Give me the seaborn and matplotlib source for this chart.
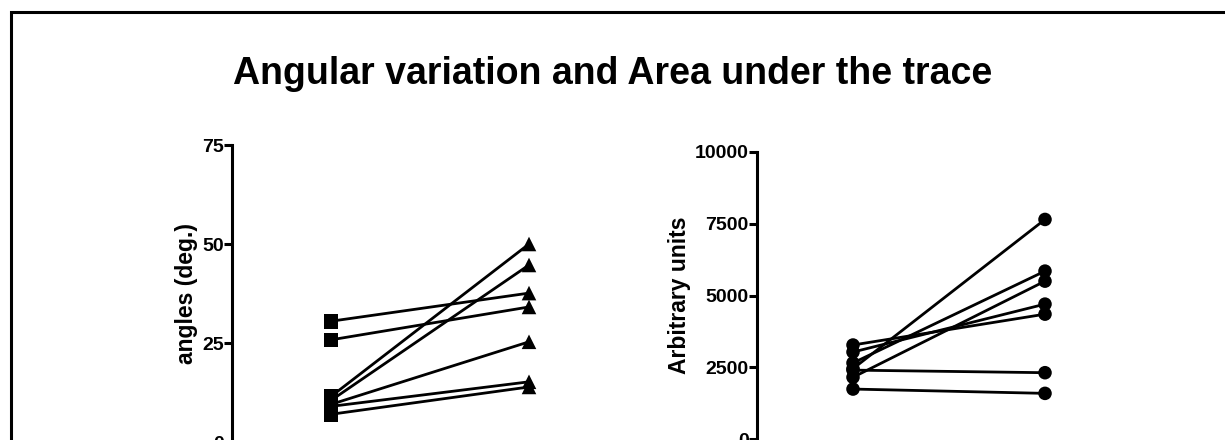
import matplotlib
matplotlib.use("Agg")
import matplotlib.pyplot as plt
from matplotlib.patches import Rectangle
import numpy as np
import pandas as pd
import seaborn as sns

sns.set_theme(style="white")
plt.rcParams["font.family"] = ["Liberation Sans", "DejaVu Sans"]
plt.rcParams["text.color"] = "black"
plt.rcParams["axes.labelcolor"] = "black"
plt.rcParams["ytick.color"] = "black"

# Paired measurements, one entry per subject
angle_before = [30.5, 25.8, 11.5, 10.5, 9.5, 9.0, 7.0]
angle_after = [37.6, 34.1, 50.0, 44.7, 25.3, 15.2, 13.9]

area_before = [3275, 3030, 2650, 2450, 2150, 2400, 1740]
area_after = [4350, 4700, 5850, 7650, 5500, 2310, 1590]

angle_ticks = [0, 25, 50, 75]
area_ticks = [0, 2500, 5000, 7500, 10000]

title = "Angular variation and Area under the trace"
angle_label = "angles (deg.)"
area_label = "Arbitrary units"


def long_table(before, after):
    n = len(before)
    return pd.DataFrame({
        "subject": list(range(n)) * 2,
        "pos": [0] * n + [1] * n,
        "phase": ["before"] * n + ["after"] * n,
        "value": list(before) + list(after),
    })


def paired_panel(ax, df, markers, msize, ticks, label, label_size):
    sns.lineplot(data=df, x="pos", y="value", units="subject", estimator=None,
                 color="black", lw=2.0, ax=ax, legend=False)
    sns.scatterplot(data=df, x="pos", y="value", style="phase", markers=markers,
                    color="black", s=msize, edgecolor="black", linewidth=0,
                    ax=ax, legend=False, zorder=3)
    ax.set_xlim(-0.5, 1.5)
    ax.set_ylim(ticks[0], ticks[-1])
    ax.set_yticks(ticks)
    ax.set_yticklabels([str(t) for t in ticks], fontsize=14, fontweight="bold")
    ax.set_xticks([])
    ax.set_xlabel("")
    ax.set_ylabel(label, fontsize=label_size, fontweight="bold", labelpad=3)
    for side in ("top", "right", "bottom"):
        ax.spines[side].set_visible(False)
    ax.spines["left"].set_linewidth(2.2)
    ax.spines["left"].set_color("black")
    ax.tick_params(axis="y", direction="out", length=6, width=2.2,
                   color="black", pad=0, left=True)
    ax.set_facecolor("none")


fig = plt.figure(figsize=(12.25, 4.4), dpi=100)
fig.patch.set_facecolor("white")

ax1 = fig.add_axes([232 / 1225, 1 - 442 / 440, 396 / 1225, 297 / 440])
ax2 = fig.add_axes([757 / 1225, 1 - 439 / 440, 384 / 1225, 287 / 440])

paired_panel(ax1, long_table(angle_before, angle_after),
             {"before": "s", "after": "^"}, 110, angle_ticks, angle_label, 16.5)
paired_panel(ax2, long_table(area_before, area_after),
             {"before": "o", "after": "o"}, 95, area_ticks, area_label, 16.5)

fig.text(0.5, 1 - 74 / 440, title, ha="center", va="center", fontsize=27,
         fontweight="bold", color="black")

# frame around the figure
fig.add_artist(Rectangle((11 / 1225, -0.2), 1.2, 1.2 - 12.5 / 440,
                         transform=fig.transFigure, fill=False,
                         edgecolor="black", linewidth=2.2, clip_on=False))

fig.savefig("out.png", dpi=100)
